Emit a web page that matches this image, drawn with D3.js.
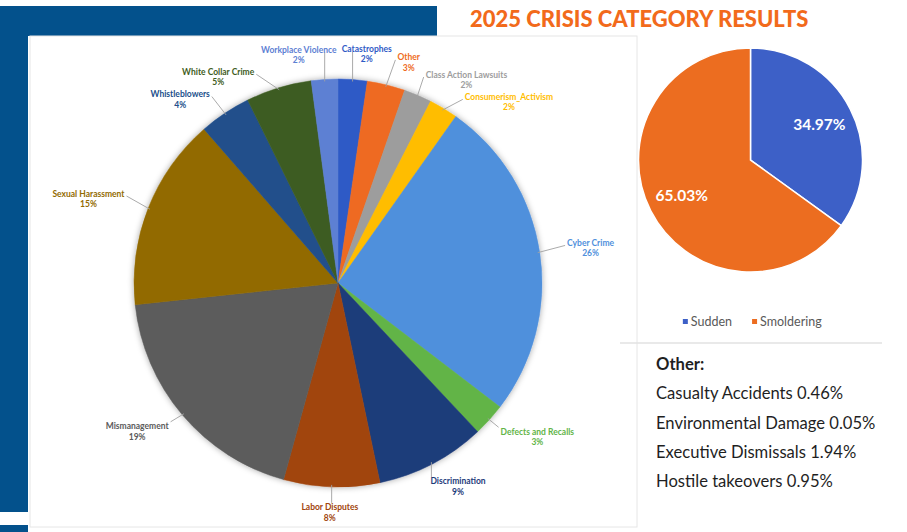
<!DOCTYPE html>
<html>
<head>
<meta charset="utf-8">
<script src="https://cdn.jsdelivr.net/npm/d3@7"></script>
<style>
    body { margin: 0; background: #fff; }
    svg { display: block; }
</style>
</head>
<body>
<svg id="chart" width="907" height="532"></svg>
<script>
// crisis categories, clockwise from 12 o'clock
var categories = ["Catastrophes", "Other", "Class Action Lawsuits", "Consumerism_Activism", "Cyber Crime",
    "Defects and Recalls", "Discrimination", "Labor Disputes", "Mismanagement", "Sexual Harassment",
    "Whistleblowers", "White Collar Crime", "Workplace Violence"];
var shares = [2.3, 3.0, 2.2, 2.3, 25.6, 2.6, 8.7, 7.6, 19.0, 15.3, 4.1, 5.2, 2.1];
var sliceColors = ["#2f5ac6", "#ee6b22", "#9d9d9d", "#ffbd00", "#5090dc", "#62b447", "#1e3c7a", "#a1450c",
    "#5b5b5b", "#926b00", "#214f8b", "#3e5c22", "#5d80d3"];

var speedTypes = ["Sudden", "Smoldering"];
var speedShares = [34.97, 65.03];
var speedColors = ["#3d60c7", "#ec6d20"];

var otherItems = ["Casualty Accidents", "Environmental Damage", "Executive Dismissals", "Hostile takeovers"];
var otherShares = [0.46, 0.05, 1.94, 0.95];

var titleText = "2025 CRISIS CATEGORY RESULTS";

var svg = d3.select("#chart");
var FONT = "Lato, 'Open Sans', sans-serif";

var defs = svg.append("defs");
defs.append("filter").attr("id", "soft")
    .attr("x", "-10%").attr("y", "-10%").attr("width", "120%").attr("height", "120%")
    .append("feDropShadow")
    .attr("dx", 0).attr("dy", 0).attr("stdDeviation", 3)
    .attr("flood-color", "#000").attr("flood-opacity", 0.35);

// page frame
var blue = "#03518c";
svg.append("rect").attr("x", 0).attr("y", 6).attr("width", 437).attr("height", 30).attr("fill", blue);
svg.append("rect").attr("x", 0).attr("y", 6).attr("width", 28).attr("height", 506).attr("fill", blue);
svg.append("rect").attr("x", 0).attr("y", 525).attr("width", 28).attr("height", 7).attr("fill", blue);
svg.append("rect").attr("x", 30).attr("y", 36).attr("width", 607).attr("height", 491)
    .attr("fill", "#fff").attr("stroke", "#e6e6e6").attr("stroke-width", 1);

svg.append("text")
    .attr("x", 470).attr("y", 27)
    .attr("font-family", FONT).attr("font-weight", 900).attr("font-size", 22)
    .attr("fill", "#f26a1b")
    .text(titleText);

// ---- main pie ----
var cx = 338, cy = 283, r = 204;
var data = categories.map(function (c, i) { return {name: c, value: shares[i], color: sliceColors[i]}; });
var total = d3.sum(shares);

var pie = d3.pie().sort(null).value(function (d) { return d.value; });
var arcs = pie(data);
var arc = d3.arc().innerRadius(0).outerRadius(r);

var main = svg.append("g").attr("transform", "translate(" + cx + "," + cy + ")");

main.append("g").attr("filter", "url(#soft)")
    .selectAll("path")
    .data(arcs)
    .join("path")
    .attr("d", arc)
    .attr("fill", function (d) { return d.data.color; })
    .attr("stroke", function (d) { return d.data.color; })
    .attr("stroke-width", 0.5);

// labels: start at the slice mid angle, then spread them apart
var labels = arcs.map(function (d) {
    var a = (d.startAngle + d.endAngle) / 2;
    if (a > Math.PI) a -= 2 * Math.PI;
    return {d: d, a0: a, a: a, R: r + 16, h: 20};
});

var labG = main.append("g");
var lines = labG.append("g");
var labs = labG.selectAll("g.lab")
    .data(labels)
    .join("g")
    .attr("class", "lab")
    .attr("font-family", FONT)
    .attr("font-size", 8.5)
    .attr("font-weight", 700)
    .attr("text-anchor", "middle")
    .attr("fill", function (l) { return l.d.data.color; });

labs.append("text").attr("class", "nm").attr("y", -2.5).text(function (l) { return l.d.data.name; });
labs.append("text").attr("class", "pc").attr("y", 8)
    .text(function (l) { return Math.round(l.d.data.value / total * 100) + "%"; });

labs.each(function (l) {
    var t = d3.select(this);
    l.w = Math.max(t.select(".nm").node().getComputedTextLength(), t.select(".pc").node().getComputedTextLength());
});

function place(l) {
    var s = Math.sin(l.a), c = -Math.cos(l.a);
    l.x = s * l.R + s * (l.w / 2 + 12);
    l.y = c * l.R + c * l.h / 2;
}

for (var it = 0; it < 400; it++) {
    labels.forEach(place);
    var moved = false;
    for (var i = 0; i < labels.length; i++) {
        for (var j = i + 1; j < labels.length; j++) {
            var p = labels[i], q = labels[j];
            if (Math.abs(p.x - q.x) < (p.w + q.w) / 2 + 5 && Math.abs(p.y - q.y) < (p.h + q.h) / 2 + 2) {
                var lo = p.a < q.a ? p : q, hi = p.a < q.a ? q : p;
                lo.a -= 0.004;
                hi.a += 0.004;
                moved = true;
            }
        }
    }
    if (!moved) break;
}
labels.forEach(place);

labs.attr("transform", function (l) { return "translate(" + l.x + "," + l.y + ")"; });

lines.selectAll("path")
    .data(labels)
    .join("path")
    .attr("fill", "none")
    .attr("stroke", "#a0a0a0")
    .attr("stroke-width", 0.9)
    .attr("d", function (l) {
        var px = Math.sin(l.a0) * (r - 2), py = -Math.cos(l.a0) * (r - 2);
        var bx = Math.max(l.x - l.w / 2 - 2, Math.min(px, l.x + l.w / 2 + 2));
        var by = Math.max(l.y - l.h / 2, Math.min(py, l.y - 3));
        if (Math.hypot(bx - px, by - py) < 8) return null;
        return "M" + px + "," + py + "L" + bx + "," + by;
    });

// ---- sudden vs smoldering pie ----
var cx2 = 750.5, cy2 = 160, r2 = 112;
var arcs2 = d3.pie().sort(null)(speedShares);
var arc2 = d3.arc().innerRadius(0).outerRadius(r2);
var lblArc2 = d3.arc().innerRadius(r2 * 0.38).outerRadius(r2);

var small = svg.append("g").attr("transform", "translate(" + cx2 + "," + cy2 + ")");
small.selectAll("path")
    .data(arcs2)
    .join("path")
    .attr("d", arc2)
    .attr("fill", function (d, i) { return speedColors[i]; })
    .attr("stroke", "#fff")
    .attr("stroke-width", 1.5);

small.selectAll("text")
    .data(arcs2)
    .join("text")
    .attr("transform", function (d) { return "translate(" + lblArc2.centroid(d) + ")"; })
    .attr("dy", "0.35em")
    .attr("text-anchor", "middle")
    .attr("font-family", FONT).attr("font-weight", 700).attr("font-size", 15.5)
    .attr("fill", "#fff")
    .text(function (d) { return d3.format(".2f")(d.data) + "%"; });

// legend
var legend = svg.append("g").attr("font-family", FONT).attr("font-size", 12.5).attr("fill", "#595959");
var items = legend.selectAll("g").data(speedTypes).join("g");
items.append("rect").attr("width", 5).attr("height", 5).attr("y", -7)
    .attr("fill", function (d, i) { return speedColors[i]; });
items.append("text").attr("x", 8).text(function (d) { return d; });
var lx = 0, widths = [];
items.each(function () { widths.push(this.getBBox().width); });
var legendW = d3.sum(widths) + 20 * (widths.length - 1);
items.attr("transform", function (d, i) {
    var x = cx2 + 2 - legendW / 2 + lx;
    lx += widths[i] + 20;
    return "translate(" + x + ",326)";
});

// ---- "Other" breakdown ----
svg.append("line").attr("x1", 620).attr("x2", 882).attr("y1", 343).attr("y2", 343)
    .attr("stroke", "#e2e2e2").attr("stroke-width", 1.5);

var rowY = d3.scalePoint().domain(d3.range(otherItems.length + 1)).range([370, 487]);
var notes = svg.append("g").attr("font-family", FONT).attr("font-size", 16.6).attr("fill", "#1f1f1f");
notes.append("text").attr("x", 656).attr("y", rowY(0)).attr("font-weight", 700).text("Other:");
notes.selectAll("text.row")
    .data(otherItems)
    .join("text")
    .attr("class", "row")
    .attr("x", 656)
    .attr("y", function (d, i) { return rowY(i + 1); })
    .text(function (d, i) { return d + " " + d3.format(".2f")(otherShares[i]) + "%"; });
</script>
</body>
</html>
